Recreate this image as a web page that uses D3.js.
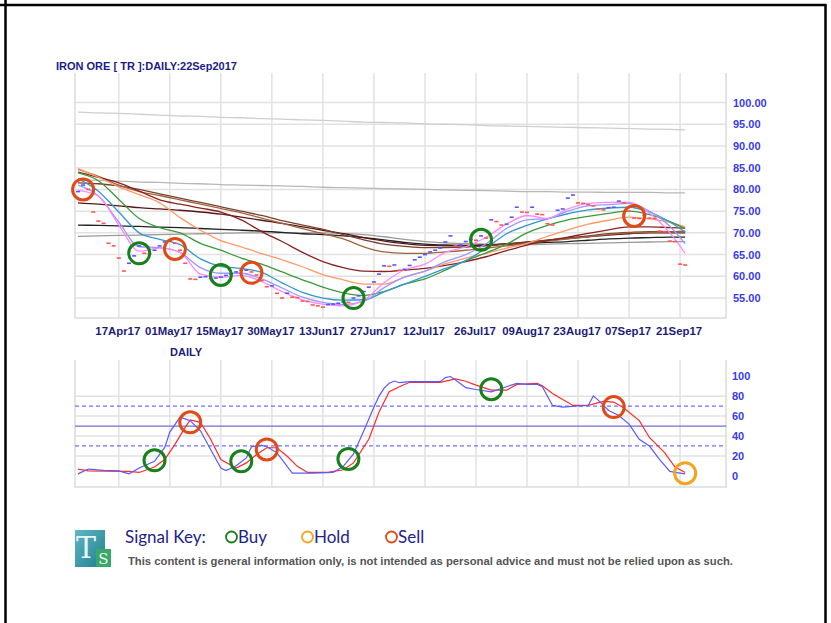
<!DOCTYPE html>
<html><head><meta charset="utf-8">
<script src="https://cdnjs.cloudflare.com/ajax/libs/d3/7.8.5/d3.min.js"></script>
<style>body{margin:0;background:#fff}svg{display:block}</style>
</head><body>
<svg id="c" width="831" height="623"></svg>
<script>
// ---------- DATA ----------
const title = "IRON ORE [ TR ]:DAILY:22Sep2017";
const tickDays = [8,18,28,38,48,58,68,78,88,98,108,118];
const tickLabels = ["17Apr17","01May17","15May17","30May17","13Jun17","27Jun17","12Jul17","26Jul17","09Aug17","23Aug17","07Sep17","21Sep17"];
const priceTicks = [55,60,65,70,75,80,85,90,95,100];
const stochTicks = [0,20,40,60,80,100];

// daily closes, trading day 0..119
const closes = [79.5,81,80,74.8,72.7,72.2,67.6,67,64.2,61.2,63,64.7,67,65.3,65.1,66,67,67.9,68.2,67.6,
66,63,59.4,59.3,59.8,59.9,59.5,59.6,59.8,60.2,60.5,61,61.4,61.4,61,60.3,59,57.6,57.8,56.1,
55,56.1,55.2,55.1,54.3,54.2,53.4,53.2,52.9,53.5,53.6,53.8,54.1,54,55,55.5,56.5,57.5,58.7,60.5,
62.4,62.3,62.6,61.4,61.6,62.5,63.8,64.4,65,65.6,66,66.5,67.9,69.3,67,67.2,68,68.5,68.3,69.3,
68.8,73,72.6,71.8,72,73.6,75.9,74.8,74.7,75.9,74.3,74.2,72.1,71.8,75.2,75.5,78,78.7,76.9,76.8,
76.5,76.2,75.5,75.3,75.8,75.9,77.3,76.9,75,73.4,73.3,74,73.4,73.3,70.4,70.3,68.1,68,62.8,62.6];

// moving averages sampled every 4 trading days
const maDays = [0,4,8,12,16,20,24,28,32,36,40,44,48,52,56,60,64,68,72,76,80,84,88,92,96,100,104,108,112,116,119];
const maPink     = [79.8,78.5,71.8,65.8,66.5,65.5,60.5,59.8,60.2,58.8,56.5,54.6,53.6,53.2,54.5,58.5,61.5,62.8,65.5,66.8,69,72,74,73.3,75.5,76.8,77,77,74.5,70,65.3];
const maLavender = [81,78.5,72.5,66.8,66.6,65.5,62,60.7,60.7,59.4,57.3,55.2,54,53.5,54.2,57.4,59.8,61.2,63.4,65,67.5,71,73,73.3,75,76.2,76.5,76.8,75,71.5,67.5];
const maSky      = [82.5,79.6,74.8,70,68.5,67.3,64,62.3,61.8,60.9,58.5,56.3,55,54.5,54.6,56.4,58.2,60,61.8,63.6,66.5,69.8,71.7,73.2,74.4,75.3,75.7,75.9,74.8,72.5,70.2];
const maGreen    = [83.8,82,77.7,73.3,71.2,70,67.6,66,64.2,62.8,61,59.2,57.5,56.2,55.6,56.5,58.2,59.4,61.4,63.6,65.4,67.4,70,71.7,73,73.8,74.5,75,74.2,72.6,71];
const maOrange   = [84.8,82.8,80.6,78.8,76.9,73.5,70.6,68.2,66.8,65.2,63.8,62.2,60.4,59.2,58.2,58.2,59.8,61.2,62.9,64.2,65.3,66.5,67.6,69.2,70.7,72,72.9,73.6,73.2,72.4,71.4];
const maDarkRed  = [84,82.8,81.5,79.6,77.6,76.6,75.7,74.8,73,70.3,68,65.5,63.4,62,61.2,61.1,61.4,61.8,62.5,63.4,64.5,65.9,67.2,68.2,69,69.9,70.7,71.4,71.4,71.2,71.1];
const maSienna   = [84.6,83,81,79.5,78.6,77.6,76.6,75.6,74.6,73.4,72.2,71,69.8,68.6,66.8,65.6,65.3,65.3,65.6,66,66.5,67,67.6,68.1,68.6,69.1,69.6,70,70.1,70.2,70.2];
const maBrown    = [81.5,81.3,80.8,80,79,78,77,76,75,74,72.8,71.8,70.8,69.6,68.4,67.4,66.9,66.6,66.6,66.7,67,67.4,67.8,68.3,68.8,69.3,69.8,70.1,70.3,70.3,70.4];
const maMaroon   = [76.9,76.6,76.2,75.8,75.5,75.2,74.8,74.3,73.6,72.9,72.2,71.4,70.6,69.8,68.9,68.1,67.5,67.1,67,67,67.2,67.5,67.9,68.3,68.7,69.1,69.5,69.8,70,70,70];
const maBlack    = [71.8,71.7,71.6,71.5,71.3,71.2,71,70.8,70.6,70.4,70.1,69.8,69.6,69.3,68.9,68.4,67.8,67.4,67.2,67.1,67.2,67.4,67.6,67.8,68,68.3,68.6,68.8,68.9,69,69];
const maGray     = [69.2,69.3,69.4,69.5,69.6,69.7,69.8,69.9,70,70,70,70,70,69.9,69.6,69.1,68.5,68,67.7,67.5,67.4,67.3,67.3,67.4,67.5,67.6,67.7,67.8,67.9,68,68];
const maSilver   = [82.2,82.1,81.9,81.7,81.6,81.4,81.3,81.1,81,80.9,80.8,80.7,80.5,80.4,80.3,80.2,80.1,80,79.9,79.8,79.7,79.6,79.5,79.5,79.4,79.4,79.3,79.3,79.3,79.2,79.2];
const maLight    = [97.8,97.6,97.5,97.3,97.1,96.9,96.8,96.6,96.5,96.3,96.2,96,95.9,95.7,95.5,95.4,95.3,95.1,95,94.9,94.7,94.6,94.5,94.4,94.3,94.2,94.1,94,93.9,93.8,93.7];

// price-chart signals
const sigDays   = [1,12,19,28,34,54,79,109];
const sigPrices = [80,65.3,66.3,60.3,60.8,55,68.4,73.9];
const sigTypes  = ["sell","buy","sell","buy","sell","buy","buy","sell"];

// stochastic
const kDays = [0,2,5,8,10,12,15,17,18,20,22,24,26,28,29,31,33,34,36,37,39,42,46,50,52,54,56,58,59,60,61,62,63,65,71,72,73,74,76,78,81,84,86,88,90,91,93,95,98,100,101,102,104,106,108,110,112,114,116,117,119];
const kVals = [2,6.8,5.4,5,2,7.8,14.6,28.6,43.9,59,55.4,45.2,26.5,7.8,5.4,10.2,18,29.2,30.6,29.2,23.1,2.7,2.7,3.4,9.5,22,45,69,80,88,93,95.2,93.5,94.6,94.6,98.6,99.7,96.2,88.5,86.7,84.4,89.5,92.9,91.8,91.8,89.5,70.7,69,70.1,70.7,80.3,75.8,65.6,60.5,52,36.7,29.9,16.3,4.4,3.4,2];
const dDays = [0,2,10,12,15,17,19,21,22,24,26,28,31,33,35,37,39,41,43,45,49,52,54,57,59,61,63,65,71,74,76,78,81,84,86,90,91,93,97,100,103,105,107,110,112,115,117,119];
const dVals = [6.8,5,4.4,3.4,8.9,16.3,31.6,48.6,56.1,53.7,36.7,16.3,7.8,13,21.4,28.2,28.2,19.7,9.5,3.4,3.4,6.1,13,36.7,64,84.4,89.5,93.9,93.9,97.3,95,91.1,86,86,91.8,92.9,90.5,82.7,70.7,70.7,74.8,74.1,68.1,55.4,38.5,23.1,8.9,3.4];
const stSigDays  = [15,22,32,37,53,81,105,119];
const stSigVals  = [15.6,53.7,14.6,26.5,17,87,69,2.7];
const stSigTypes = ["buy","sell","buy","sell","buy","buy","sell","hold"];

// ---------- DRAW ----------
const svg = d3.select("#c");
const W = 831, H = 623;
const sigColor = {buy:"#17801a", sell:"#e04a17", hold:"#f5a31a"};
const FONT = "'Liberation Sans', Arial, sans-serif";

const x = d3.scaleLinear().domain([-0.585, 127]).range([75, 726]);
const yP = d3.scaleLinear().domain([50.4, 106.8]).range([318, 73]);
const yS = d3.scaleLinear().domain([-11.2, 116.3]).range([487, 360]);

// frame
svg.append("line").attr("x1",0).attr("x2",826).attr("y1",5).attr("y2",5).attr("stroke","#000").attr("stroke-width",2.5);
svg.append("line").attr("x1",5.5).attr("x2",5.5).attr("y1",0).attr("y2",H).attr("stroke","#000").attr("stroke-width",2.5);
svg.append("line").attr("x1",825.5).attr("x2",825.5).attr("y1",4).attr("y2",H).attr("stroke","#000").attr("stroke-width",2.5);

const grid = "#e2e2e2";
function panel(yScale, top, bottom, hTicks) {
  const g = svg.append("g");
  g.selectAll(".v").data(tickDays).join("line")
    .attr("x1", d=>x(d)).attr("x2", d=>x(d)).attr("y1", top).attr("y2", bottom)
    .attr("stroke", grid).attr("stroke-width", 1.5);
  g.selectAll(".h").data(hTicks).join("line")
    .attr("x1", 75).attr("x2", 726).attr("y1", d=>yScale(d)).attr("y2", d=>yScale(d))
    .attr("stroke", grid).attr("stroke-width", 1.5);
  g.append("path").attr("d", `M75,${top}V${bottom}H726V${top}`)
    .attr("fill","none").attr("stroke","#dcdcdc").attr("stroke-width",1.5);
  return g;
}
panel(yP, 73, 318, priceTicks);
panel(yS, 360, 487, [20,40,60,80]);

// title
svg.append("text").attr("x",56).attr("y",70).text(title)
  .attr("font-family",FONT).attr("font-weight","bold").attr("font-size",11).attr("fill","#1c1c8a");

// price axis labels
svg.append("g").selectAll("text").data(priceTicks).join("text")
  .attr("x",733).attr("y",d=>yP(d)+4).text(d=>d.toFixed(2))
  .attr("font-family",FONT).attr("font-weight","bold").attr("font-size",11).attr("fill","#3a3aee");
// date labels
svg.append("g").selectAll("text").data(tickDays).join("text")
  .attr("x",d=>x(d)-1).attr("y",335).attr("text-anchor","middle").text((d,i)=>tickLabels[i])
  .attr("font-family",FONT).attr("font-weight","bold").attr("font-size",11.4).attr("fill","#1c1c7a");
svg.append("text").attr("x",170).attr("y",356).text("DAILY")
  .attr("font-family",FONT).attr("font-weight","bold").attr("font-size",11).attr("fill","#1c1c7a");

// moving averages
const maSeries = [
  {v:maLight, c:"#cfcfcf"},
  {v:maSilver, c:"#b8b8b8"},
  {v:maGray, c:"#9a9a9a"},
  {v:maBlack, c:"#222222"},
  {v:maMaroon, c:"#5a1616"},
  {v:maBrown, c:"#7a4030"},
  {v:maSienna, c:"#a0643c"},
  {v:maDarkRed, c:"#8b2222"},
  {v:maOrange, c:"#ff9966"},
  {v:maGreen, c:"#3c9a3c"},
  {v:maSky, c:"#3399cc"},
  {v:maLavender, c:"#9999ff"},
  {v:maPink, c:"#ff88ff"}
];
const lineP = d3.line().x((d,i)=>x(maDays[i])).y(d=>yP(d)).curve(d3.curveMonotoneX);
svg.append("g").selectAll("path").data(maSeries).join("path")
  .attr("d", s=>lineP(s.v)).attr("fill","none").attr("stroke", s=>s.c).attr("stroke-width",1.3);

// closes as short dashes
svg.append("g").selectAll("line").data(closes).join("line")
  .attr("x1",(d,i)=>x(i)-2).attr("x2",(d,i)=>x(i)+2)
  .attr("y1",d=>yP(d)).attr("y2",d=>yP(d))
  .attr("stroke",(d,i)=> (i===0 || d>=closes[i-1]) ? "#5555ff" : "#ff5555").attr("stroke-width",1.6);

// price signals
svg.append("g").selectAll("circle").data(sigDays).join("circle")
  .attr("cx",d=>x(d)).attr("cy",(d,i)=>yP(sigPrices[i])).attr("r",10.5)
  .attr("fill","none").attr("stroke",(d,i)=>sigColor[sigTypes[i]]).attr("stroke-width",3);

// stochastic reference lines
svg.append("line").attr("x1",75).attr("x2",726).attr("y1",yS(50)).attr("y2",yS(50)).attr("stroke","#6f6fd8").attr("stroke-width",1.2);
svg.append("g").selectAll("line").data([30,70]).join("line")
  .attr("x1",75).attr("x2",726).attr("y1",d=>yS(d)).attr("y2",d=>yS(d))
  .attr("stroke","#7070ff").attr("stroke-width",1.2).attr("stroke-dasharray","4,3");

svg.append("g").selectAll("text").data(stochTicks).join("text")
  .attr("x",732).attr("y",d=>yS(d)+4).text(d=>d)
  .attr("font-family",FONT).attr("font-weight","bold").attr("font-size",11).attr("fill","#3a3aee");

const lineK = d3.line().x((d,i)=>x(kDays[i])).y(d=>yS(d));
const lineD = d3.line().x((d,i)=>x(dDays[i])).y(d=>yS(d));
svg.append("path").attr("d",lineD(dVals)).attr("fill","none").attr("stroke","#ff2a2a").attr("stroke-width",1.2);
svg.append("path").attr("d",lineK(kVals)).attr("fill","none").attr("stroke","#5a5aff").attr("stroke-width",1.2);

svg.append("g").selectAll("circle").data(stSigDays).join("circle")
  .attr("cx",d=>x(d)).attr("cy",(d,i)=>yS(stSigVals[i])).attr("r",10.5)
  .attr("fill","none").attr("stroke",(d,i)=>sigColor[stSigTypes[i]]).attr("stroke-width",3);

// ---------- signal key ----------
const defs = svg.append("defs");
const gr = defs.append("linearGradient").attr("id","lg").attr("x1",0).attr("y1",0).attr("x2",1).attr("y2",1);
gr.append("stop").attr("offset","0%").attr("stop-color","#5fb8c4");
gr.append("stop").attr("offset","100%").attr("stop-color","#1e7f8f");
svg.append("rect").attr("x",75).attr("y",530).attr("width",30).attr("height",37).attr("fill","url(#lg)");
svg.append("text").attr("x",86).attr("y",558).attr("text-anchor","middle").text("T")
  .attr("font-family","'DejaVu Serif', serif").attr("font-size",30).attr("font-weight",200).attr("fill","#e9f6f8");
svg.append("rect").attr("x",96).attr("y",549).attr("width",15).attr("height",18).attr("fill","#3aa86a");
svg.append("text").attr("x",103.5).attr("y",564).attr("text-anchor","middle").text("S")
  .attr("font-family","'DejaVu Serif', serif").attr("font-size",15).attr("fill","#eafaf0");

const keyFont = "Lato, 'Open Sans', sans-serif";
svg.append("text").attr("x",125).attr("y",543).text("Signal Key:")
  .attr("font-family",keyFont).attr("font-size",17).attr("fill","#23238a");
const keyItems = [{t:"Buy",k:"buy",x:226},{t:"Hold",k:"hold",x:302},{t:"Sell",k:"sell",x:386}];
const ki = svg.append("g").selectAll("g").data(keyItems).join("g");
ki.append("circle").attr("cx",d=>d.x+5.5).attr("cy",537).attr("r",5.5)
  .attr("fill","none").attr("stroke",d=>sigColor[d.k]).attr("stroke-width",1.8);
ki.append("text").attr("x",d=>d.x+12).attr("y",543).text(d=>d.t)
  .attr("font-family",keyFont).attr("font-size",17).attr("fill","#23238a");

svg.append("text").attr("x",128).attr("y",565)
  .text("This content is general information only, is not intended as personal advice and must not be relied upon as such.")
  .attr("font-family",FONT).attr("font-weight","bold").attr("font-size",11.25).attr("fill","#555");
</script>
</body></html>
